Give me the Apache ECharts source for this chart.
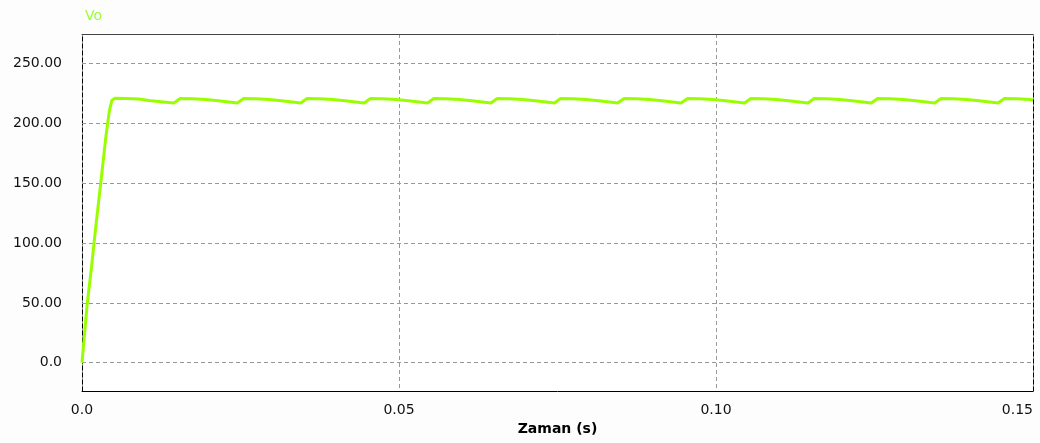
<!DOCTYPE html>
<html>
<head>
<meta charset="utf-8">
<script src="https://cdn.jsdelivr.net/npm/echarts@6/dist/echarts.min.js"></script>
<style>
html,body{margin:0;padding:0;background:#fdfdfd;}
#chart{width:1040px;height:443px;}
</style>
</head>
<body>
<div id="chart"></div>
<script>
// Time (s) and Vo values
const times = [
  0, 0.0003, 0.0008, 0.0015, 0.0022, 0.0030, 0.0037, 0.0043, 0.0047, 0.0052,
  0.0070, 0.0090, 0.0105, 0.0125, 0.0145,
  0.0155, 0.0175, 0.0195, 0.0215, 0.0235, 0.0245,
  0.0255, 0.0275, 0.0295, 0.0315, 0.0335, 0.0345,
  0.0355, 0.0375, 0.0395, 0.0415, 0.0435, 0.0445,
  0.0455, 0.0475, 0.0495, 0.0515, 0.0535, 0.0545,
  0.0555, 0.0575, 0.0595, 0.0615, 0.0635, 0.0645,
  0.0655, 0.0675, 0.0695, 0.0715, 0.0735, 0.0745,
  0.0755, 0.0775, 0.0795, 0.0815, 0.0835, 0.0845,
  0.0855, 0.0875, 0.0895, 0.0915, 0.0935, 0.0945,
  0.0955, 0.0975, 0.0995, 0.1015, 0.1035, 0.1045,
  0.1055, 0.1075, 0.1095, 0.1115, 0.1135, 0.1145,
  0.1155, 0.1175, 0.1195, 0.1215, 0.1235, 0.1245,
  0.1255, 0.1275, 0.1295, 0.1315, 0.1335, 0.1345,
  0.1355, 0.1375, 0.1395, 0.1415, 0.1435, 0.1445,
  0.1455, 0.1475, 0.1495, 0.1500
];
const vo = [
  0, 18, 48, 80, 115, 152, 186, 210, 219, 221,
  220.8, 220.3, 219.0, 218.0, 217.0,
  220.8, 220.5, 219.8, 218.8, 217.6, 217.0,
  220.8, 220.5, 219.8, 218.8, 217.6, 217.0,
  220.8, 220.5, 219.8, 218.8, 217.6, 217.0,
  220.8, 220.5, 219.8, 218.8, 217.6, 217.0,
  220.8, 220.5, 219.8, 218.8, 217.6, 217.0,
  220.8, 220.5, 219.8, 218.8, 217.6, 217.0,
  220.8, 220.5, 219.8, 218.8, 217.6, 217.0,
  220.8, 220.5, 219.8, 218.8, 217.6, 217.0,
  220.8, 220.5, 219.8, 218.8, 217.6, 217.0,
  220.8, 220.5, 219.8, 218.8, 217.6, 217.0,
  220.8, 220.5, 219.8, 218.8, 217.6, 217.0,
  220.8, 220.5, 219.8, 218.8, 217.6, 217.0,
  220.8, 220.5, 219.8, 218.8, 217.6, 217.0,
  220.8, 220.5, 219.8, 219.5
];
const yTicks = [0, 50, 100, 150, 200, 250];
const yTickLabels = ['0.0', '50.00', '100.00', '150.00', '200.00', '250.00'];
const xTickLabels = {0: '0.0', 0.05: '0.05', 0.1: '0.10', 0.15: '0.15'};
const seriesName = 'Vo';
const xAxisName = 'Zaman (s)';

const data = times.map((t, i) => [t, vo[i]]);
const FONT = 'DejaVu Sans';
const dash = [4, 3];

const chart = echarts.init(document.getElementById('chart'), null, {renderer: 'canvas'});
chart.setOption({
  animation: false,
  backgroundColor: '#fdfdfd',
  title: {
    text: seriesName,
    left: 80, top: 4,
    textStyle: {color: '#99ff33', fontSize: 14, fontWeight: 'normal', fontFamily: FONT}
  },
  grid: {left: 82, right: 7, top: 34, bottom: 52, show: true, backgroundColor: '#ffffff', borderWidth: 0},
  xAxis: [{
    type: 'value', min: 0, max: 0.15, interval: 0.05, position: 'bottom',
    name: xAxisName, nameLocation: 'middle', nameGap: 23,
    nameTextStyle: {fontFamily: FONT, fontSize: 14, fontWeight: 'bold', color: '#000'},
    axisLine: {show: true, onZero: false, lineStyle: {color: '#000', width: 1}},
    axisTick: {show: false},
    axisLabel: {
      margin: 12, fontFamily: FONT, fontSize: 14, color: '#111',
      alignMaxLabel: 'right',
      formatter: v => xTickLabels[Math.round(v * 100) / 100] || ''
    },
    splitLine: {show: true, lineStyle: {color: '#999', type: dash, width: 1}}
  }, {
    type: 'value', min: 0, max: 0.15, position: 'top',
    axisLine: {show: true, onZero: false, lineStyle: {color: '#444', width: 1}},
    axisTick: {show: false}, axisLabel: {show: false}, splitLine: {show: false}
  }],
  yAxis: [{
    type: 'value', min: -23.6, max: 274.6, position: 'left',
    axisLine: {show: true, onZero: false, lineStyle: {color: '#000', type: dash, width: 1}},
    axisTick: {show: false, customValues: yTicks},
    axisLabel: {
      customValues: yTicks, margin: 20, fontFamily: FONT, fontSize: 14, color: '#111',
      formatter: v => yTickLabels[yTicks.indexOf(Math.round(v))] || ''
    },
    splitLine: {show: false}
  }, {
    type: 'value', min: -23.6, max: 274.6, position: 'right', alignTicks: false,
    axisLine: {show: true, onZero: false, lineStyle: {color: '#000', type: dash, width: 1}},
    axisTick: {show: false}, axisLabel: {show: false}, splitLine: {show: false}
  }],
  series: [{
    name: seriesName,
    type: 'line',
    data: data,
    showSymbol: false,
    symbol: 'none',
    lineStyle: {color: '#99ff00', width: 3},
    itemStyle: {color: '#99ff00'},
    z: 5,
    markLine: {
      silent: true, symbol: 'none', label: {show: false},
      lineStyle: {color: '#999', type: dash, width: 1},
      data: yTicks.map(v => ({yAxis: v}))
    }
  }]
});
</script>
</body>
</html>
